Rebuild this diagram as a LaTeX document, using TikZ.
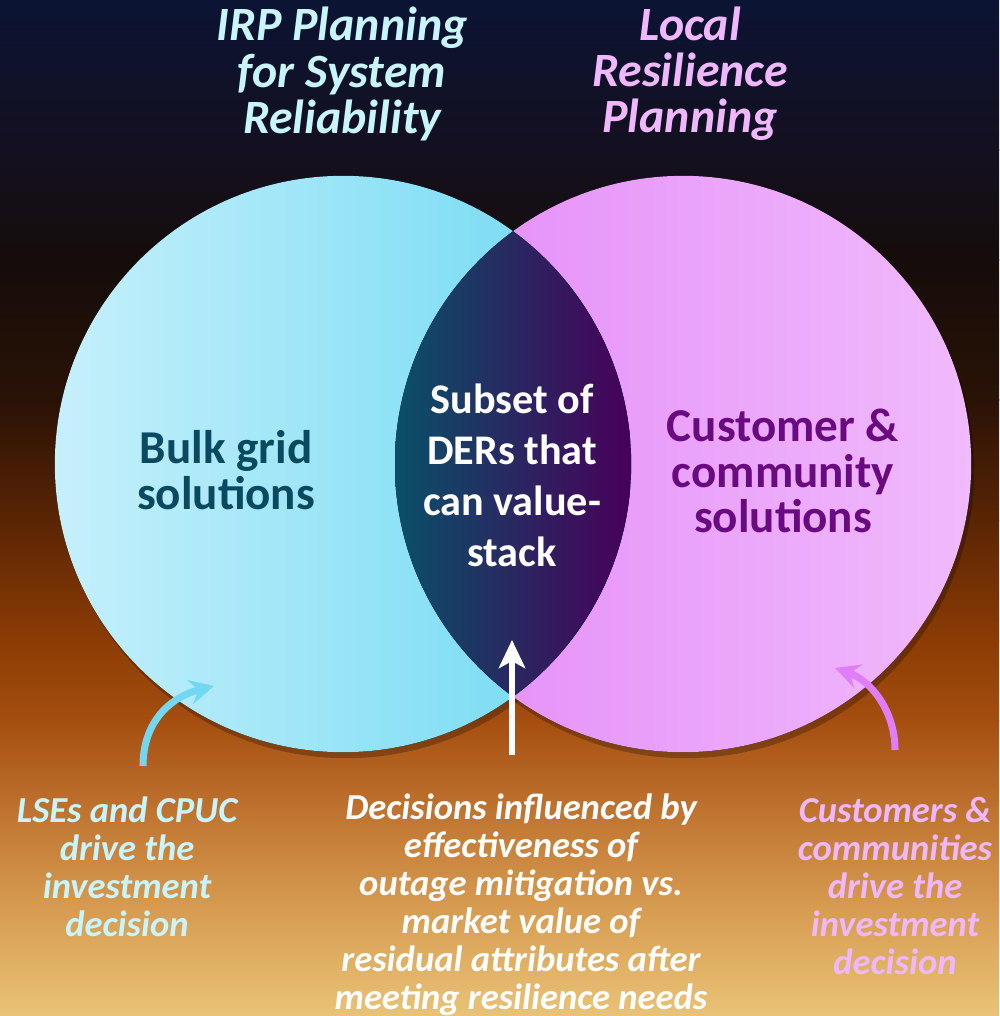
\documentclass[tikz,border=0pt]{standalone}
\usepackage{fontspec}
\setmainfont{Carlito}
\usetikzlibrary{arrows.meta}
\definecolor{bgA}{HTML}{0B1433}
\definecolor{bgB}{HTML}{141020}
\definecolor{bgC}{HTML}{150D0A}
\definecolor{bgD}{HTML}{2A1206}
\definecolor{bgE}{HTML}{5A2504}
\definecolor{bgF}{HTML}{8C3C04}
\definecolor{bgG}{HTML}{A54E10}
\definecolor{bgH}{HTML}{BC6F2C}
\definecolor{bgI}{HTML}{D5994E}
\definecolor{bgJ}{HTML}{E9C377}
\definecolor{gridL}{HTML}{C6F0FB}
\definecolor{gridR}{HTML}{6BD8F3}
\definecolor{custL}{HTML}{E48AF8}
\definecolor{custR}{HTML}{F0BAFC}
\definecolor{lensL}{HTML}{0A5068}
\definecolor{lensM}{HTML}{1F3062}
\definecolor{lensR}{HTML}{48005A}
\definecolor{gridtxt}{HTML}{0A4A60}
\definecolor{custtxt}{HTML}{6A0A80}
\definecolor{cyantxt}{HTML}{C8F4FC}
\definecolor{pinktxt}{HTML}{F0B8FC}
\definecolor{cyanarr}{HTML}{72D8F2}
\definecolor{pinkarr}{HTML}{E07EF8}
\tikzset{
  headtext/.style={font=\fontsize{13.6}{13.1}\selectfont\bfseries\itshape, align=center, inner sep=0pt},
  soltext/.style={font=\fontsize{13.4}{12.9}\selectfont\bfseries, align=center, inner sep=0pt},
  notetext/.style={font=\fontsize{10.4}{10.8}\selectfont\bfseries\itshape, align=center, inner sep=0pt},
  curvearr/.style={line width=2pt, -{Stealth[length=7pt,width=7pt,inset=2.5pt]}}
}

\begin{document}
\begin{tikzpicture}[x=0.01cm, y=-0.01cm]
	\useasboundingbox (0,0) rectangle (999,1016);
	% background
	\fill[top color=bgA, bottom color=bgB] (0,0) rectangle (999,151);
	\fill[top color=bgB, bottom color=bgC] (0,150) rectangle (999,261);
	\fill[top color=bgC, bottom color=bgD] (0,260) rectangle (999,401);
	\fill[top color=bgD, bottom color=bgE] (0,400) rectangle (999,521);
	\fill[top color=bgE, bottom color=bgF] (0,520) rectangle (999,641);
	\fill[top color=bgF, bottom color=bgG] (0,640) rectangle (999,721);
	\fill[top color=bgG, bottom color=bgH] (0,720) rectangle (999,801);
	\fill[top color=bgH, bottom color=bgI] (0,800) rectangle (999,901);
	\fill[top color=bgI, bottom color=bgJ] (0,900) rectangle (999,1016);

	% shadows
	\fill[black, opacity=0.25] (346,470) circle (2.88cm);
	\fill[black, opacity=0.25] (686,470) circle (2.88cm);

	% circles
	\fill[left color=custL, right color=custR] (683,464) circle (2.88cm);
	\fill[left color=gridL, right color=gridR] (343,464) circle (2.88cm);
	\begin{scope}
		\clip (343,464) circle (2.88cm);
		\clip (683,464) circle (2.88cm);
		\fill[left color=lensL, middle color=lensM, right color=lensR] (395,150) rectangle (631,780);
	\end{scope}

	% titles
	\node[headtext, text=cyantxt] (irp) at (342,74) {IRP Planning\\for System\\Reliability};
	\node[headtext, text=pinktxt] (local) at (690,74) {Local\\Resilience\\Planning};

	% circle texts
	\node[soltext, text=gridtxt] (bulk) at (226,470) {Bulk grid\\solutions};
	\node[font=\fontsize{12}{14.5}\selectfont\bfseries, align=center, inner sep=0pt, text=white] (subset) at (512,475) {Subset of\\DERs that\\can value-\\stack};
	\node[soltext, text=custtxt] (cust) at (783,471) {Customer \&\\community\\solutions};

	% notes
	\node[notetext, text=cyantxt] (lse) at (127,867) {LSEs and CPUC\\drive the\\investment\\decision};
	\node[notetext, text=white] (decide) at (521,905) {Decisions influenced by\\effectiveness of\\outage mitigation vs.\\market value of\\residual attributes after\\meeting resilience needs};
	\node[notetext, text=pinktxt] (comm) at (895,886) {Customers \&\\communities\\drive the\\investment\\decision};

	% arrows
	\coordinate (lsefoot) at (143,766);
	\coordinate (lsetip) at (214,686);
	\coordinate (decfoot) at (512,755);
	\coordinate (dectip) at (512,640);
	\coordinate (commfoot) at (895,750);
	\coordinate (commtip) at (835,668);
	\draw[curvearr, cyanarr] (lsefoot) .. controls (143,722) and (170,697) .. (lsetip);
	\draw[white, line width=1.6pt, -{Stealth[length=8pt,width=7.5pt,inset=2pt]}] (decfoot) -- (dectip);
	\draw[curvearr, pinkarr] (commfoot) .. controls (895,712) and (872,681) .. (commtip);
\end{tikzpicture}
\end{document}
